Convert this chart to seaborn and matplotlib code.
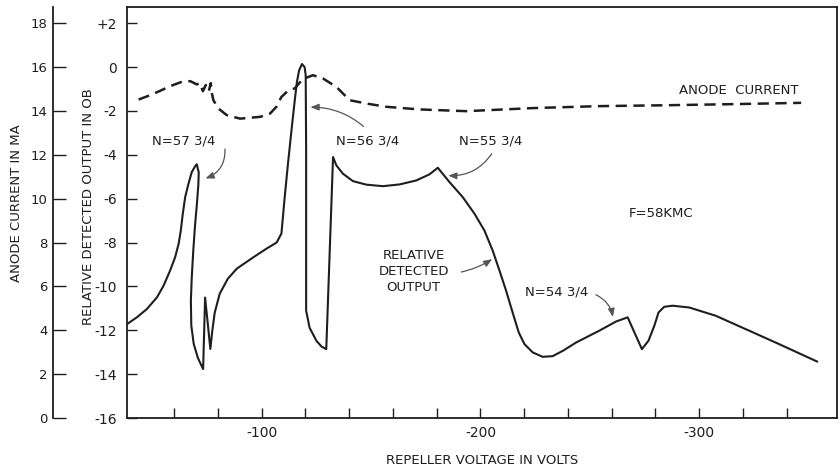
import pandas as pd
import matplotlib
matplotlib.use("Agg")
import matplotlib.pyplot as plt
from matplotlib.ticker import FixedLocator, FixedFormatter
import seaborn as sns

# Relative detected output (dB) vs repeller voltage, traced in drawing order
out_volts = [-38.4, -42.9, -47.5, -52.1, -55.1, -58.1, -60.4, -62.0, -63.0, -63.9,
             -65.0, -66.5, -68.0, -69.5, -70.3, -71.2, -71.0, -70.3, -69.5, -68.7,
             -68.0, -67.6, -67.8, -68.9, -70.8, -73.2, -74.1, -75.1, -76.5, -77.4,
             -78.5, -80.8, -84.5, -88.6, -95.9, -102.3, -106.8, -109.0, -110.5, -112.0,
             -113.6, -115.1, -116.1, -117.1, -118.4, -119.6, -120.1, -120.3, -120.3, -120.3,
             -121.9, -125.0, -127.4, -129.5, -132.6, -134.1, -137.1, -141.7, -147.8, -155.4,
             -163.0, -170.6, -176.7, -180.5, -185.8, -191.9, -197.3, -201.8, -205.6, -208.7,
             -211.7, -214.7, -217.5, -220.1, -223.9, -228.4, -233.0, -237.6, -243.7, -254.3,
             -262.0, -267.3, -273.8, -276.8, -279.5, -281.4, -284.0, -287.8, -295.4, -307.6,
             -321.3, -336.5, -354.0]
out_db = [-11.72, -11.41, -11.03, -10.50, -9.97, -9.28, -8.67, -8.06, -7.45, -6.69,
          -5.93, -5.32, -4.79, -4.53, -4.43, -4.80, -5.39, -6.31, -7.22, -8.37,
          -9.60, -10.65, -11.79, -12.62, -13.26, -13.77, -10.51, -11.47, -12.85, -12.02,
          -11.20, -10.33, -9.65, -9.19, -8.69, -8.27, -8.00, -7.59, -5.93, -4.40,
          -2.88, -1.51, -0.67, -0.14, 0.14, 0.00, -0.37, -3.79, -8.37, -11.11,
          -11.89, -12.48, -12.75, -12.86, -4.10, -4.48, -4.86, -5.20, -5.36, -5.43,
          -5.35, -5.17, -4.89, -4.59, -5.24, -5.93, -6.69, -7.45, -8.37, -9.28,
          -10.19, -11.19, -12.10, -12.63, -13.01, -13.21, -13.18, -12.94, -12.56, -12.02,
          -11.60, -11.41, -12.86, -12.48, -11.79, -11.19, -10.93, -10.88, -10.96, -11.34,
          -11.95, -12.63, -13.43]

# Anode current (mA) vs repeller voltage
anode_volts = [-43.7, -49.0, -53.6, -58.1, -63.5, -67.3, -70.3, -71.7, -73.1, -74.4,
               -75.8, -76.7, -77.2, -77.9, -80.2, -84.0, -90.1, -99.2, -103.8, -106.7,
               -109.0, -112.0, -115.1, -118.7, -123.4, -128.0, -134.1, -140.2, -147.8, -156.9,
               -172.1, -193.5, -223.7, -254.3, -284.9, -315.1, -346.6]
anode_ma = [14.52, 14.72, 14.92, 15.13, 15.33, 15.36, 15.21, 15.27, 14.90, 15.18,
            14.90, 15.27, 14.81, 14.49, 14.11, 13.81, 13.65, 13.73, 13.88, 14.19,
            14.64, 14.92, 15.03, 15.45, 15.63, 15.48, 15.10, 14.49, 14.34, 14.19,
            14.07, 13.99, 14.13, 14.22, 14.26, 14.31, 14.37]

db_ticks = list(range(2, -17, -2))
db_labels = ["+2", "0"] + [f"-{abs(v)}" for v in db_ticks[2:]]
ma_ticks = list(range(0, 19, 2))
volt_ticks = list(range(-60, -341, -20))
volt_labels = [f"-{abs(v)}" if v % 100 == 0 else "" for v in volt_ticks]

sns.set_style("ticks")
plt.rcParams["font.family"] = ["DejaVu Sans"]
plt.rcParams["axes.unicode_minus"] = False
ink = "#1e1e1e"

fig = plt.figure(figsize=(8.4, 4.71), dpi=100)
ax = fig.add_axes([127 / 840, 53 / 471, 710 / 840, 411 / 471])

out_df = pd.DataFrame({"volts": out_volts, "db": out_db})
sns.lineplot(data=out_df, x="volts", y="db", sort=False, estimator=None,
             color=ink, linewidth=1.5, ax=ax)

ax.set_xlim(-38.4, -363)
ax.set_ylim(-16, 2.74)
ax.yaxis.set_major_locator(FixedLocator(db_ticks))
ax.yaxis.set_major_formatter(FixedFormatter(db_labels))
ax.xaxis.set_major_locator(FixedLocator(volt_ticks))
ax.xaxis.set_major_formatter(FixedFormatter(volt_labels))
ax.tick_params(axis="y", direction="in", length=7, width=1, pad=7,
               labelsize=10, colors=ink)
ax.tick_params(axis="x", direction="in", length=7, width=1, pad=6,
               labelsize=10, colors=ink)
ax.set_xlabel("")
ax.set_ylabel("")
for s in ax.spines.values():
    s.set_color(ink)
    s.set_linewidth(1.3)

ax2 = ax.twinx()
anode_df = pd.DataFrame({"volts": anode_volts, "ma": anode_ma})
sns.lineplot(data=anode_df, x="volts", y="ma", sort=False, estimator=None,
             color=ink, linewidth=1.8, linestyle=(0, (4.5, 2.6)), ax=ax2)
ax2.set_ylim(0, 18.74)
ax2.set_xlim(-38.4, -363)
ax2.yaxis.set_major_locator(FixedLocator(ma_ticks))
ax2.yaxis.set_ticks_position("left")
ax2.spines["left"].set_visible(True)
ax2.spines["left"].set_position(("axes", -74 / 710))
ax2.spines["left"].set_color(ink)
ax2.spines["left"].set_linewidth(1.3)
for side in ["right", "top", "bottom"]:
    ax2.spines[side].set_visible(False)
ax2.tick_params(axis="y", direction="in", length=9, width=1, pad=4,
                labelsize=9.5, colors=ink)
ax2.set_ylabel("")
ax2.set_xlabel("")

# Text labels
tkw = dict(color=ink, fontsize=9.5, ha="center", va="center")
ax.text(-64.4, -3.38, "N=57 3/4", **tkw)
ax.text(-148.4, -3.38, "N=56 3/4", **tkw)
ax.text(-204.6, -3.38, "N=55 3/4", **tkw)
ax.text(-234.7, -10.24, "N=54 3/4", **tkw)
ax.text(-169.4, -9.33, "RELATIVE\nDETECTED\nOUTPUT", linespacing=1.3, **tkw)
ax.text(-282.6, -6.67, "F=58KMC", **tkw)
ax.text(-318.3, -1.05, "ANODE  CURRENT", **tkw)

arrows = [((-83.1, -3.61), (-73.1, -5.12), -0.4),
          ((-147.5, -2.79), (-121.0, -1.83), 0.2),
          ((-205.9, -3.84), (-184.0, -4.94), -0.3),
          ((-190.0, -9.37), (-206.4, -8.69), 0.1),
          ((-251.6, -10.33), (-260.7, -11.52), -0.3)]
for start, tip, rad in arrows:
    ax.annotate("", xy=tip, xytext=start,
                arrowprops=dict(arrowstyle="-|>,head_length=0.5,head_width=0.2",
                                color="#555555", lw=0.9,
                                connectionstyle=f"arc3,rad={rad}"))

fig.text(482 / 840, 1 - 461 / 471, "REPELLER VOLTAGE IN VOLTS", color=ink,
         fontsize=9.5, ha="center", va="center")
fig.text(17 / 840, 1 - 203 / 471, "ANODE CURRENT IN MA", color=ink,
         fontsize=9.5, ha="center", va="center", rotation=90)
fig.text(88 / 840, 1 - 207 / 471, "RELATIVE DETECTED OUTPUT IN OB", color=ink,
         fontsize=9.5, ha="center", va="center", rotation=90)

fig.savefig("out.png", dpi=100, facecolor="white")
